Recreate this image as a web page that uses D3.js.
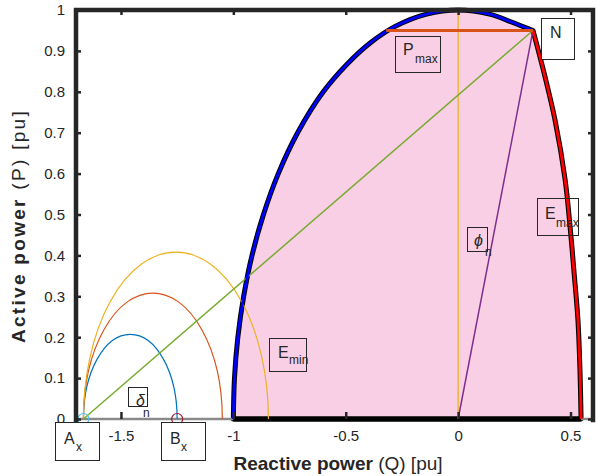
<!DOCTYPE html>
<html>
<head>
<meta charset="utf-8">
<script src="https://cdn.jsdelivr.net/npm/d3@7.9.0/dist/d3.min.js"></script>
<style>
  body { margin: 0; background: #fff; }
  svg text { font-family: Helvetica, "Liberation Sans", Arial, sans-serif; fill: #262626; }
</style>
</head>
<body>
<svg id="chart" width="596" height="476"></svg>
<script>
// ticks
const qTicks = [-1.5, -1, -0.5, 0, 0.5];
const qTickLabels = ["-1.5", "-1", "-0.5", "0", "0.5"];
const pTicks = [0, 0.1, 0.2, 0.3, 0.4, 0.5, 0.6, 0.7, 0.8, 0.9, 1];
const pTickLabels = ["0", "0.1", "0.2", "0.3", "0.4", "0.5", "0.6", "0.7", "0.8", "0.9", "1"];

// stator limit arc, from (-1,0) up to point N  (Q, P in pu)
const arcQ = [-1, -0.995, -0.98, -0.954, -0.917, -0.866, -0.80, -0.714, -0.60, -0.49, -0.39, -0.28, -0.14, 0, 0.14, 0.24, 0.333];
const arcP = [0, 0.1, 0.2, 0.3, 0.4, 0.5, 0.6, 0.7, 0.8, 0.87, 0.92, 0.96, 0.99, 1.0, 0.99, 0.97, 0.95];
// Emax edge, from N down to the Q axis
const edgeQ = [0.333, 0.385, 0.431, 0.476, 0.498, 0.517, 0.533, 0.542, 0.547];
const edgeP = [0.95, 0.84, 0.731, 0.585, 0.47, 0.35, 0.242, 0.12, 0];

// Pmax line
const pmaxQ = [-0.32, 0.333];
const pmaxP = 0.95;
const pointN = [0.333, 0.95];
const pointA = -1.667;
const pointB = -1.25;

// delta loops starting at A
const loopEnds = [-1.25, -1.049, -0.844];
const loopPeaks = [0.207, 0.308, 0.408];
const loopColors = ["#0072BD", "#D95319", "#EDB120"];

const svg = d3.select("#chart");
const x = d3.scaleLinear().domain([-1.7, 0.6]).range([76, 593]);
const y = d3.scaleLinear().domain([0, 1]).range([419, 10]);
const line = d3.line().x(d => x(d[0])).y(d => y(d[1]));
const smooth = d3.line().x(d => x(d[0])).y(d => y(d[1])).curve(d3.curveCatmullRom);

const arcPts = arcQ.map((q, i) => [q, arcP[i]]);
const edgePts = edgeQ.map((q, i) => [q, edgeP[i]]);

// filled operating region
const regionPath = smooth(arcPts) + smooth(edgePts).replace(/^M[^A-Z]*/, "") + "Z";
svg.append("path")
  .attr("d", regionPath)
  .attr("fill", "#f8cfe4")
  .attr("stroke", "#000")
  .attr("stroke-width", 5)
  .attr("stroke-linejoin", "round");

// gray zero line
svg.append("line")
  .attr("x1", x(-1.7)).attr("x2", x(0.6))
  .attr("y1", y(0)).attr("y2", y(0))
  .attr("stroke", "#8a8a8a").attr("stroke-width", 2.5);
svg.append("path")
  .attr("d", line([[-1, 0], [edgeQ[edgeQ.length - 1], 0]]))
  .attr("stroke", "#000").attr("stroke-width", 5);

// loops
loopEnds.forEach((e, i) => {
  const rx = (x(e) - x(pointA)) / 2;
  const ry = y(0) - y(loopPeaks[i]);
  svg.append("path")
    .attr("d", `M${x(pointA)},${y(0)} A${rx},${ry} 0 0 1 ${x(e)},${y(0)}`)
    .attr("fill", "none")
    .attr("stroke", loopColors[i])
    .attr("stroke-width", 1.2);
});

// reference lines
svg.append("path").attr("d", line([[0, 0], [0, 1]]))
  .attr("stroke", "#EDB120").attr("stroke-width", 1.3);
svg.append("path").attr("d", line([[pointA, 0], pointN]))
  .attr("stroke", "#77AC30").attr("stroke-width", 1.5);
svg.append("path").attr("d", line([[0, 0], pointN]))
  .attr("stroke", "#7E2F8E").attr("stroke-width", 1.5);

// blue and red limits
svg.append("path").attr("d", smooth(arcPts))
  .attr("fill", "none").attr("stroke", "#0000ff").attr("stroke-width", 2.8);
svg.append("path").attr("d", smooth(edgePts))
  .attr("fill", "none").attr("stroke", "#ff0000").attr("stroke-width", 2.8);
svg.append("path").attr("d", line([[pmaxQ[0], pmaxP], [pmaxQ[1], pmaxP]]))
  .attr("stroke", "#D95319").attr("stroke-width", 3);

// markers
svg.append("circle").attr("cx", x(pointA)).attr("cy", y(0)).attr("r", 5.5)
  .attr("fill", "none").attr("stroke", "#4DBEEE").attr("stroke-width", 1.2);
svg.append("circle").attr("cx", x(pointB)).attr("cy", y(0)).attr("r", 5.5)
  .attr("fill", "none").attr("stroke", "#A2142F").attr("stroke-width", 1.2);

// axes
const axisG = svg.append("g");
const styleAxis = g => {
  g.select(".domain").remove();
  g.selectAll(".tick line").attr("stroke", "#262626").attr("stroke-width", 2.5);
  g.selectAll(".tick text").attr("font-size", 15).attr("fill", "#262626");
};
axisG.append("g").attr("transform", `translate(${x(-1.7)},0)`)
  .call(d3.axisLeft(y).tickValues(pTicks).tickFormat((d, i) => pTickLabels[i])
    .tickSizeInner(-5).tickSizeOuter(0).tickPadding(11))
  .call(styleAxis);
axisG.append("g").attr("transform", `translate(${x(0.6)},0)`)
  .call(d3.axisRight(y).tickValues(pTicks).tickFormat("").tickSizeInner(-5).tickSizeOuter(0))
  .call(styleAxis);
axisG.append("g").attr("transform", `translate(0,${y(1)})`)
  .call(d3.axisTop(x).tickValues(qTicks).tickFormat("").tickSizeInner(-5).tickSizeOuter(0))
  .call(styleAxis);
axisG.append("g").attr("transform", `translate(0,${y(0)})`)
  .call(d3.axisBottom(x).tickValues(qTicks).tickFormat((d, i) => qTickLabels[i])
    .tickSizeInner(-7).tickSizeOuter(0).tickPadding(11))
  .call(styleAxis);

// box (left, top, right)
svg.append("path")
  .attr("d", `M${x(-1.7)},${y(0) + 1} V${y(1)} H${x(0.6)} V${y(0) + 1}`)
  .attr("fill", "none").attr("stroke", "#262626").attr("stroke-width", 4.5)
  .attr("stroke-linecap", "square");

// annotation boxes
function label(bx, by, bw, bh, fill, main, mx, my, sub, sx, sy, italic) {
  svg.append("rect").attr("x", bx).attr("y", by).attr("width", bw).attr("height", bh)
    .attr("fill", fill).attr("stroke", "#262626").attr("stroke-width", 1);
  svg.append("text").attr("x", mx).attr("y", my).attr("font-size", 16)
    .attr("font-style", italic ? "italic" : null).attr("font-family", italic ? "'DejaVu Serif', serif" : null)
    .text(main);
  if (sub) svg.append("text").attr("x", sx).attr("y", sy).attr("font-size", 12).text(sub);
}
label(541.5, 18.5, 33, 41, "#fff", "N", 550, 38, null);
label(395.5, 36.5, 45, 36, "none", "P", 403, 55, "max", 415, 63);
label(269.5, 338.5, 37, 33, "none", "E", 278, 358, "min", 289, 364);
label(537.5, 198.5, 41, 37, "none", "E", 545, 219, "max", 556, 227);
label(467.5, 227.5, 20, 24, "none", "\u03d5", 474, 246, "n", 485, 256, true);
label(128.5, 387.5, 19, 19, "none", "\u03b4", 136, 406, "n", 143, 417, true);
label(55.5, 422.5, 44, 38, "#fff", "A", 64, 444, "x", 76, 451);
label(161.5, 422.5, 44, 38, "#fff", "B", 170, 444, "x", 181, 451);

// axis titles
const xt = svg.append("text").attr("x", 338).attr("y", 470).attr("text-anchor", "middle").attr("font-size", 19);
xt.append("tspan").attr("font-weight", "bold").text("Reactive power");
xt.append("tspan").text(" (Q) [pu]");
const yt = svg.append("text").attr("transform", "translate(25,226) rotate(-90)")
  .attr("text-anchor", "middle").attr("font-size", 19).attr("letter-spacing", 2.3);
yt.append("tspan").attr("font-weight", "bold").text("Active power");
yt.append("tspan").text(" (P) [pu]");
</script>
</body>
</html>
